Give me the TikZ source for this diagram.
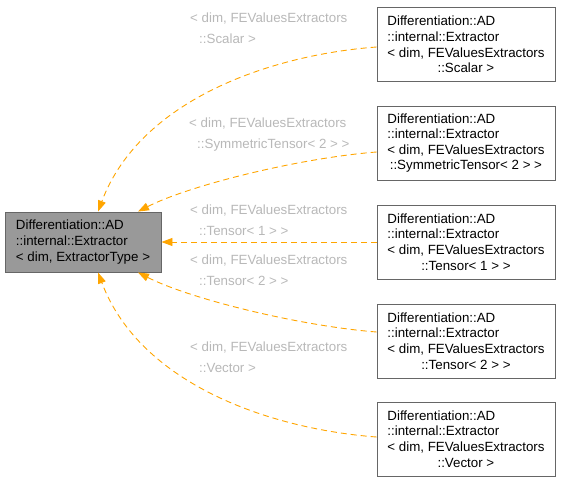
\documentclass[tikz,border=0pt]{standalone}
\usepackage{fontspec}
\setmainfont{Liberation Sans}
\usetikzlibrary{arrows.meta}
\definecolor{edgeorange}{HTML}{FFA500}
\definecolor{labelgray}{HTML}{B8B8B8}
\definecolor{basefill}{HTML}{999999}
\definecolor{baseborder}{HTML}{666666}
\definecolor{boxborder}{HTML}{666666}
\tikzset{
  classbox/.style={draw=boxborder, line width=0.9pt, fill=white, rectangle,
    minimum height=74pt, minimum width=178pt, inner xsep=0pt, inner ysep=0pt,
    align=left, font=\fontsize{13.33}{15.6}\selectfont},
  basebox/.style={draw=baseborder, line width=0.9pt, fill=basefill, rectangle,
    minimum height=60pt, minimum width=156pt, inner xsep=0pt, inner ysep=0pt,
    align=left, font=\fontsize{13.33}{15.6}\selectfont},
  inh/.style={draw=edgeorange, line width=0.9pt, dash pattern=on 6pt off 4pt,
    -{Triangle[length=11pt,width=8pt,fill=edgeorange]}},
  elabel/.style={text=labelgray, anchor=base west, inner sep=0pt,
    font=\fontsize{13.33}{15.6}\selectfont}
}
\newcommand{\lastline}[1]{\makebox[157pt][c]{#1}}
\begin{document}
\begin{tikzpicture}[x=1pt,y=-1pt]
\useasboundingbox (0,0) rectangle (561,482);
\node[basebox] (base) at (83,242) {Differentiation::AD\\::internal::Extractor\\< dim, ExtractorType >};
\node[classbox] (n1) at (466,44.5) {Differentiation::AD\\::internal::Extractor\\< dim, FEValuesExtractors\\\lastline{::Scalar >}};
\node[classbox] (n2) at (466,143) {Differentiation::AD\\::internal::Extractor\\< dim, FEValuesExtractors\\\lastline{::SymmetricTensor< 2 > >}};
\node[classbox] (n3) at (466,242) {Differentiation::AD\\::internal::Extractor\\< dim, FEValuesExtractors\\\lastline{::Tensor< 1 > >}};
\node[classbox] (n4) at (466,341) {Differentiation::AD\\::internal::Extractor\\< dim, FEValuesExtractors\\\lastline{::Tensor< 2 > >}};
\node[classbox] (n5) at (466,439) {Differentiation::AD\\::internal::Extractor\\< dim, FEValuesExtractors\\\lastline{::Vector >}};
\draw[inh] ([yshift=-2.5pt]n1.west) .. controls (270,55) and (140,100) .. ([xshift=15pt]base.north);
\draw[inh] ([yshift=-9pt]n2.west) .. controls (300,158) and (190,185) .. ([xshift=55pt]base.north);
\draw[inh] (n3.west) -- (base.east);
\draw[inh] ([yshift=9pt]n4.west) .. controls (300,326) and (190,299) .. ([xshift=55pt]base.south);
\draw[inh] ([yshift=2pt]n5.west) .. controls (270,429) and (140,384) .. ([xshift=15pt]base.south);
\node[elabel] (l1a) at (190,22) {< dim, FEValuesExtractors};
\node[elabel] (l1b) at (199,43) {::Scalar >};
\node[elabel] (l2a) at (189,127) {< dim, FEValuesExtractors};
\node[elabel] (l2b) at (197,148) {::SymmetricTensor< 2 > >};
\node[elabel] (l3a) at (190,214) {< dim, FEValuesExtractors};
\node[elabel] (l3b) at (199,235) {::Tensor< 1 > >};
\node[elabel] (l4a) at (190,264) {< dim, FEValuesExtractors};
\node[elabel] (l4b) at (199,285) {::Tensor< 2 > >};
\node[elabel] (l5a) at (190,351) {< dim, FEValuesExtractors};
\node[elabel] (l5b) at (199,372) {::Vector >};
\end{tikzpicture}
\end{document}
